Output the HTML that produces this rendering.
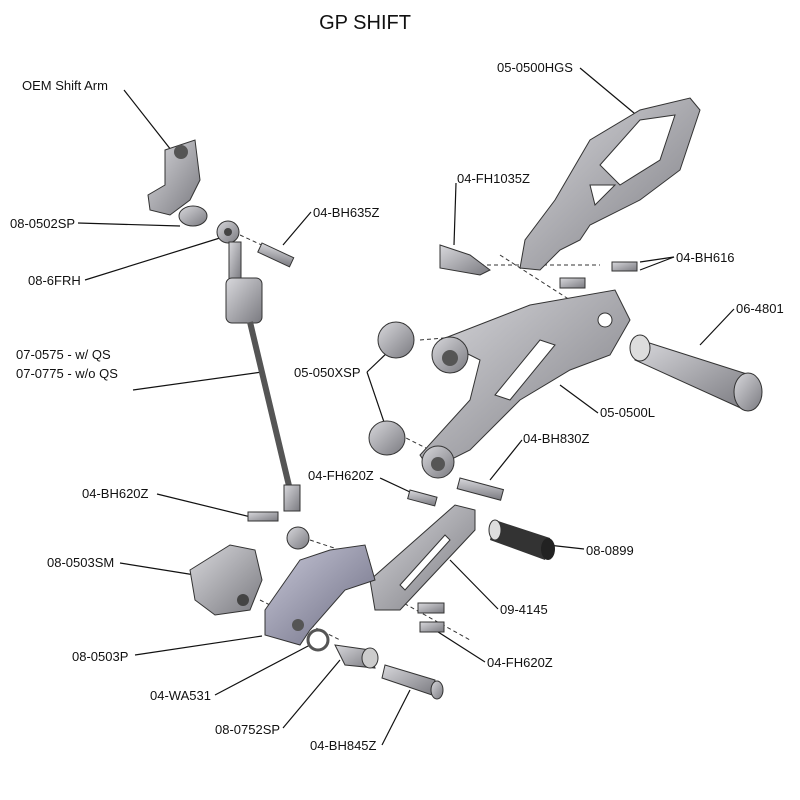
<!DOCTYPE html>
<html><head><meta charset="utf-8"><style>
html,body{margin:0;padding:0;background:#fff;}
svg{display:block;}
text{font-family:"Liberation Sans",sans-serif;font-size:13px;fill:#111;}
</style></head><body>
<svg width="800" height="800" viewBox="0 0 800 800" xmlns="http://www.w3.org/2000/svg">
<defs>
<linearGradient id="g" x1="0" y1="0" x2="1" y2="1"><stop offset="0" stop-color="#d8d8dc"/><stop offset="1" stop-color="#7a7a80"/></linearGradient>
<linearGradient id="gb" x1="0" y1="0" x2="1" y2="1"><stop offset="0" stop-color="#c8c8d8"/><stop offset="1" stop-color="#6a6a80"/></linearGradient>
</defs>
<text x="365" y="29" text-anchor="middle" style="font-size:20px">GP SHIFT</text>

<!-- labels -->
<text x="22" y="90">OEM Shift Arm</text>
<text x="10" y="228">08-0502SP</text>
<text x="313" y="217">04-BH635Z</text>
<text x="28" y="285">08-6FRH</text>
<text x="16" y="359">07-0575 - w/ QS</text>
<text x="16" y="378">07-0775 - w/o QS</text>
<text x="497" y="72">05-0500HGS</text>
<text x="457" y="183">04-FH1035Z</text>
<text x="676" y="262">04-BH616</text>
<text x="736" y="313">06-4801</text>
<text x="294" y="377">05-050XSP</text>
<text x="600" y="417">05-0500L</text>
<text x="523" y="443">04-BH830Z</text>
<text x="308" y="480">04-FH620Z</text>
<text x="82" y="498">04-BH620Z</text>
<text x="586" y="555">08-0899</text>
<text x="47" y="567">08-0503SM</text>
<text x="500" y="614">09-4145</text>
<text x="72" y="661">08-0503P</text>
<text x="487" y="667">04-FH620Z</text>
<text x="150" y="700">04-WA531</text>
<text x="215" y="734">08-0752SP</text>
<text x="310" y="750">04-BH845Z</text>

<!-- leader lines -->
<g stroke="#111" stroke-width="1.2" fill="none">
<line x1="124" y1="90" x2="175" y2="155"/>
<line x1="78" y1="223" x2="180" y2="226"/>
<line x1="311" y1="212" x2="283" y2="245"/>
<line x1="85" y1="280" x2="223" y2="237"/>
<line x1="133" y1="390" x2="262" y2="372"/>
<line x1="580" y1="68" x2="640" y2="118"/>
<line x1="456" y1="183" x2="454" y2="245"/>
<line x1="674" y1="257" x2="640" y2="270"/>
<line x1="674" y1="257" x2="640" y2="262"/>
<line x1="734" y1="309" x2="700" y2="345"/>
<line x1="367" y1="372" x2="390" y2="350"/>
<line x1="367" y1="372" x2="385" y2="425"/>
<line x1="598" y1="413" x2="560" y2="385"/>
<line x1="522" y1="440" x2="490" y2="480"/>
<line x1="380" y1="478" x2="410" y2="492"/>
<line x1="157" y1="494" x2="255" y2="518"/>
<line x1="584" y1="549" x2="548" y2="545"/>
<line x1="120" y1="563" x2="195" y2="575"/>
<line x1="498" y1="609" x2="450" y2="560"/>
<line x1="135" y1="655" x2="262" y2="636"/>
<line x1="485" y1="662" x2="435" y2="630"/>
<line x1="215" y1="695" x2="310" y2="645"/>
<line x1="283" y1="728" x2="340" y2="660"/>
<line x1="382" y1="745" x2="410" y2="690"/>
</g>
<!-- dashed assembly lines -->
<g stroke="#333" stroke-width="1" stroke-dasharray="4,3" fill="none">
<line x1="240" y1="235" x2="290" y2="258"/>
<line x1="420" y1="340" x2="600" y2="325"/>
<line x1="400" y1="435" x2="440" y2="455"/>
<line x1="310" y1="540" x2="370" y2="560"/>
<line x1="480" y1="265" x2="600" y2="265"/>
<line x1="500" y1="255" x2="570" y2="300"/>
<line x1="380" y1="590" x2="470" y2="640"/>
<line x1="260" y1="600" x2="340" y2="640"/>
</g>

<!-- OEM arm -->
<path d="M165 150 L195 140 L200 180 L190 200 L170 215 L150 210 L148 195 L165 185 Z" fill="url(#g)" stroke="#333"/>
<circle cx="181" cy="152" r="7" fill="#555"/>
<!-- bushing -->
<ellipse cx="193" cy="216" rx="14" ry="10" fill="url(#g)" stroke="#333"/>
<!-- rod end -->
<circle cx="228" cy="232" r="11" fill="url(#g)" stroke="#333"/><circle cx="228" cy="232" r="4" fill="#444"/>
<rect x="262" y="243" width="35" height="10" transform="rotate(25 262 243)" fill="url(#g)" stroke="#333"/>
<rect x="229" y="242" width="12" height="38" fill="url(#g)" stroke="#333"/>
<rect x="226" y="278" width="36" height="45" rx="6" fill="url(#g)" stroke="#333"/>
<line x1="250" y1="322" x2="290" y2="490" stroke="#555" stroke-width="6"/>
<rect x="284" y="485" width="16" height="26" fill="url(#g)" stroke="#333"/>
<circle cx="298" cy="538" r="11" fill="url(#g)" stroke="#333"/>
<rect x="248" y="512" width="30" height="9" fill="url(#g)" stroke="#333"/>

<!-- heel guard -->
<path d="M690 98 L700 110 L680 170 L640 200 L590 225 L580 240 L560 250 L540 270 L520 268 L525 240 L555 200 L590 140 L640 110 Z" fill="url(#g)" stroke="#333"/>
<path d="M600 165 L640 120 L675 115 L660 160 L620 185 Z M590 185 L615 185 L595 205 Z" fill="#fff" stroke="#333"/>
<path d="M440 245 L470 255 L490 270 L480 275 L440 268 Z" fill="url(#g)" stroke="#333"/>
<rect x="560" y="278" width="25" height="10" fill="url(#g)" stroke="#333"/>
<rect x="612" y="262" width="25" height="9" fill="url(#g)" stroke="#333"/>

<!-- main lever 05-0500L -->
<path d="M440 340 L530 305 L615 290 L630 320 L610 355 L570 370 L520 400 L470 450 L430 470 L420 455 L470 400 L480 360 Z" fill="url(#g)" stroke="#333"/>
<circle cx="450" cy="355" r="18" fill="url(#g)" stroke="#333"/><circle cx="450" cy="358" r="8" fill="#555"/>
<circle cx="438" cy="462" r="16" fill="url(#g)" stroke="#333"/><circle cx="438" cy="464" r="7" fill="#555"/>
<circle cx="605" cy="320" r="7" fill="#fff" stroke="#333"/>
<path d="M495 395 L540 340 L555 345 L510 400 Z" fill="#fff" stroke="#333"/>
<!-- bushings 050XSP -->
<ellipse cx="396" cy="340" rx="18" ry="18" fill="url(#g)" stroke="#333"/>
<ellipse cx="387" cy="438" rx="18" ry="17" fill="url(#g)" stroke="#333"/>
<!-- footpeg 06-4801 -->
<path d="M640 340 L750 375 L745 410 L635 360 Z" fill="url(#g)" stroke="#333"/>
<ellipse cx="748" cy="392" rx="14" ry="19" fill="url(#g)" stroke="#333"/>
<ellipse cx="640" cy="348" rx="10" ry="13" fill="#ddd" stroke="#333"/>
<!-- bolts -->
<rect x="460" y="478" width="45" height="11" transform="rotate(15 460 478)" fill="url(#g)" stroke="#333"/>
<rect x="410" y="490" width="28" height="9" transform="rotate(15 410 490)" fill="url(#g)" stroke="#333"/>

<!-- 09-4145 link -->
<path d="M370 580 L455 505 L475 510 L475 530 L400 610 L375 610 Z" fill="url(#g)" stroke="#333"/>
<path d="M400 585 L445 535 L450 540 L405 590 Z" fill="#fff" stroke="#333"/>
<!-- 08-0899 -->
<path d="M495 520 L550 538 L545 560 L490 540 Z" fill="#333"/>
<ellipse cx="548" cy="549" rx="7" ry="11" fill="#222"/>
<ellipse cx="495" cy="530" rx="6" ry="10" fill="#ddd" stroke="#333"/>
<!-- FH620Z bottom -->
<rect x="418" y="603" width="26" height="10" fill="url(#g)" stroke="#333"/>
<rect x="420" y="622" width="24" height="10" fill="url(#g)" stroke="#333"/>

<!-- 08-0503SM -->
<path d="M190 570 L230 545 L255 550 L262 580 L250 610 L215 615 L195 600 Z" fill="url(#g)" stroke="#333"/>
<circle cx="243" cy="600" r="6" fill="#444"/>
<!-- 08-0503P bluish -->
<path d="M265 610 L300 560 L330 550 L365 545 L375 580 L345 590 L310 630 L300 645 L265 635 Z" fill="url(#gb)" stroke="#333"/>
<circle cx="298" cy="625" r="6" fill="#555"/>
<!-- washer -->
<ellipse cx="318" cy="640" rx="10" ry="10" fill="none" stroke="#555" stroke-width="3"/>
<!-- 0752SP -->
<path d="M335 645 L370 650 L375 668 L345 665 Z" fill="url(#g)" stroke="#333"/>
<ellipse cx="370" cy="658" rx="8" ry="10" fill="#ccc" stroke="#333"/>
<!-- BH845Z -->
<path d="M385 665 L435 680 L432 695 L382 678 Z" fill="url(#g)" stroke="#333"/>
<ellipse cx="437" cy="690" rx="6" ry="9" fill="url(#g)" stroke="#333"/>
</svg>
</body></html>
